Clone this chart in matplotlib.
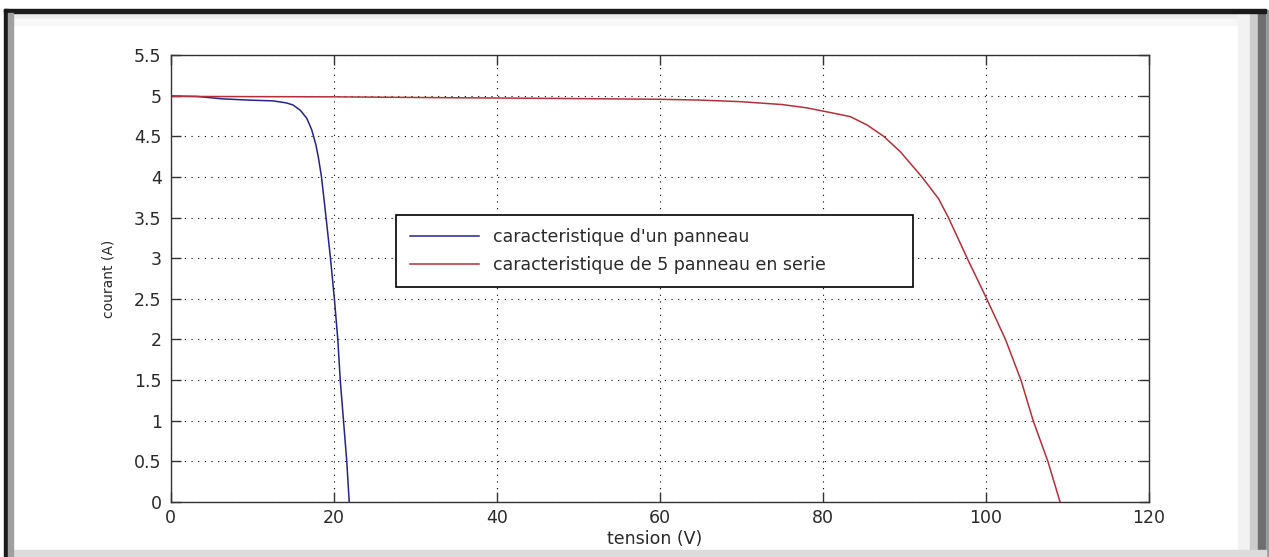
import numpy as np
import matplotlib
matplotlib.use("Agg")
import matplotlib.pyplot as plt
from matplotlib.patches import Rectangle
from matplotlib.ticker import FuncFormatter

# courbe I(V) d'un panneau
v_un = [0, 3.2, 6.4, 9.5, 12.6, 14.2, 15.0, 15.9, 16.7, 17.3, 17.8, 18.1, 18.5, 19.06, 19.6, 20.08, 20.5, 20.8, 21.2, 21.6, 21.9]
i_un = [4.995, 4.99, 4.96, 4.945, 4.935, 4.91, 4.885, 4.82, 4.72, 4.58, 4.4, 4.25, 4.0, 3.5, 3.0, 2.5, 2.0, 1.5, 1.0, 0.5, 0.0]

# courbe I(V) de 5 panneaux en serie
v_serie = [0, 20, 33, 48, 60, 65, 70, 75, 78, 80, 82, 83.4, 85.4, 87.45, 89.5, 92.15, 94.2, 95.4, 97.7, 100.1, 102.4, 104.3, 105.8, 107.6, 109.1]
i_serie = [4.99, 4.985, 4.975, 4.965, 4.955, 4.945, 4.925, 4.89, 4.85, 4.81, 4.77, 4.74, 4.64, 4.5, 4.31, 4.0, 3.73, 3.5, 3.0, 2.5, 2.0, 1.5, 1.0, 0.5, 0.0]

xticks = [0, 20, 40, 60, 80, 100, 120]
yticks = [0, 0.5, 1, 1.5, 2, 2.5, 3, 3.5, 4, 4.5, 5, 5.5]

plt.rcParams['font.family'] = ['DejaVu Sans']

fig = plt.figure(figsize=(12.69, 5.57), dpi=100)
fig.patch.set_facecolor('white')

# cadre de la fenetre (bordure + ombre)
W, H = 1269, 557
def px(x, y, w, h, c):
    fig.patches.append(Rectangle((x / W, 1 - (y + h) / H), w / W, h / H,
                                 transform=fig.transFigure, color=c, zorder=0))
px(13, 13, 1245, 6, '#ececec')
px(13, 19, 1245, 6, '#f7f7f7')
px(1238, 13, 12, 537, '#f2f2f2')
px(1250, 13, 8, 537, '#cccccc')
px(1258, 10, 8, 547, '#6e6e6e')
px(1266, 10, 3, 547, '#9a9a9a')
px(4, 550, 1262, 7, '#dcdcdc')
px(4, 9, 1262, 4, '#1a1a1a')
px(4, 9, 4, 548, '#1a1a1a')
px(8, 13, 5, 544, '#a0a0a0')

ax = fig.add_axes([0.1345, 0.0987, 0.7709, 0.8026])
ax.plot(v_un, i_un, color='#24248a', lw=1.1, label="caracteristique d'un panneau")
ax.plot(v_serie, i_serie, color='#b3303a', lw=1.1, label='caracteristique de 5 panneau en serie')

ax.set_xlim(0, 120)
ax.set_ylim(0, 5.5)
ax.set_xticks(xticks)
ax.set_yticks(yticks)
ax.yaxis.set_major_formatter(FuncFormatter(lambda v, p: '%g' % v))
ax.grid(True, color='black', linestyle=(0, (1, 5)), linewidth=0.8)
ax.tick_params(direction='in', length=7, width=1, top=True, right=True,
               labelsize=12.5, colors='#333333', labelcolor='#2a2a2a')
ax.tick_params(axis='y', pad=6.5)
ax.tick_params(axis='x', pad=5)
for s in ax.spines.values():
    s.set_color('#333333')
    s.set_linewidth(1)

ax.set_xlabel('tension (V)', fontsize=12.5, color='#2a2a2a')
ax.set_ylabel('courant (A)', fontsize=10, color='#2a2a2a')
ax.xaxis.set_label_coords(0.495, -0.062)
ax.yaxis.set_label_coords(-0.056, 0.5)

leg = ax.legend(loc='upper left', bbox_to_anchor=(0.2303, 0.0, 0.5285, 0.643),
                mode='expand', borderaxespad=0, fancybox=False, fontsize=12.5,
                handlelength=4.0, handletextpad=0.8, labelspacing=0.54,
                borderpad=0.79, framealpha=1)
leg.get_frame().set_edgecolor('black')
leg.get_frame().set_linewidth(1.2)
for t in leg.get_texts():
    t.set_color('#2a2a2a')

fig.savefig('out.png', dpi=100)
